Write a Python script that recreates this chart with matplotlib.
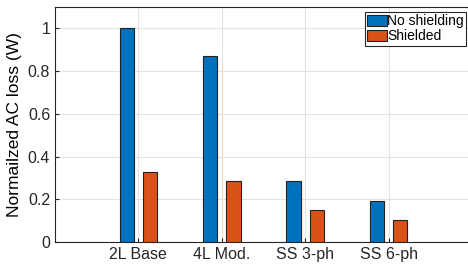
import numpy as np
import matplotlib.pyplot as plt

plt.rcParams['font.family'] = ['Liberation Sans', 'DejaVu Sans']

categories = ['2L Base', '4L Mod.', 'SS 3-ph', 'SS 6-ph']
no_shielding = [1.0, 0.87, 0.285, 0.19]
shielded = [0.33, 0.285, 0.152, 0.105]

fig = plt.figure(figsize=(4.68, 2.67), dpi=100)
# axes run slightly past the right edge, as in the reference
ax = fig.add_axes([55 / 468, 25 / 267, 417 / 468, 235 / 267])

x = np.arange(1, len(categories) + 1)
w = 0.17
ax.bar(x - 0.14, no_shielding, w, color='#0072BD', edgecolor='#222222', linewidth=0.8,
       label='No shielding', zorder=3)
ax.bar(x + 0.14, shielded, w, color='#D95319', edgecolor='#222222', linewidth=0.8,
       label='Shielded', zorder=3)

ax.set_xlim(0, 5)
ax.set_ylim(0, 1.1)
ax.set_xticks(x)
ax.set_xticklabels(categories)
ax.set_yticks([0, 0.2, 0.4, 0.6, 0.8, 1.0])
ax.set_yticklabels(['0', '0.2', '0.4', '0.6', '0.8', '1'])
ax.set_ylabel('Normailzed AC loss (W)', fontsize=12.5)
ax.tick_params(direction='in', labelsize=11.5, length=3, color='#262626', labelcolor='#262626')
ax.grid(True, color='#e3e3e3', linewidth=0.8, zorder=0)
for s in ax.spines.values():
    s.set_color('#262626')
    s.set_linewidth(0.8)

leg = ax.legend(loc='upper right', bbox_to_anchor=(466 / 468, 1 - 12 / 267),
                bbox_transform=fig.transFigure, fontsize=10,
                fancybox=False, framealpha=1, edgecolor='#262626', borderpad=0.15,
                handlelength=1.4, handleheight=0.9, handletextpad=0.05, labelspacing=0.1,
                borderaxespad=0)
leg.get_frame().set_linewidth(0.8)

fig.savefig('out.png', dpi=100)
